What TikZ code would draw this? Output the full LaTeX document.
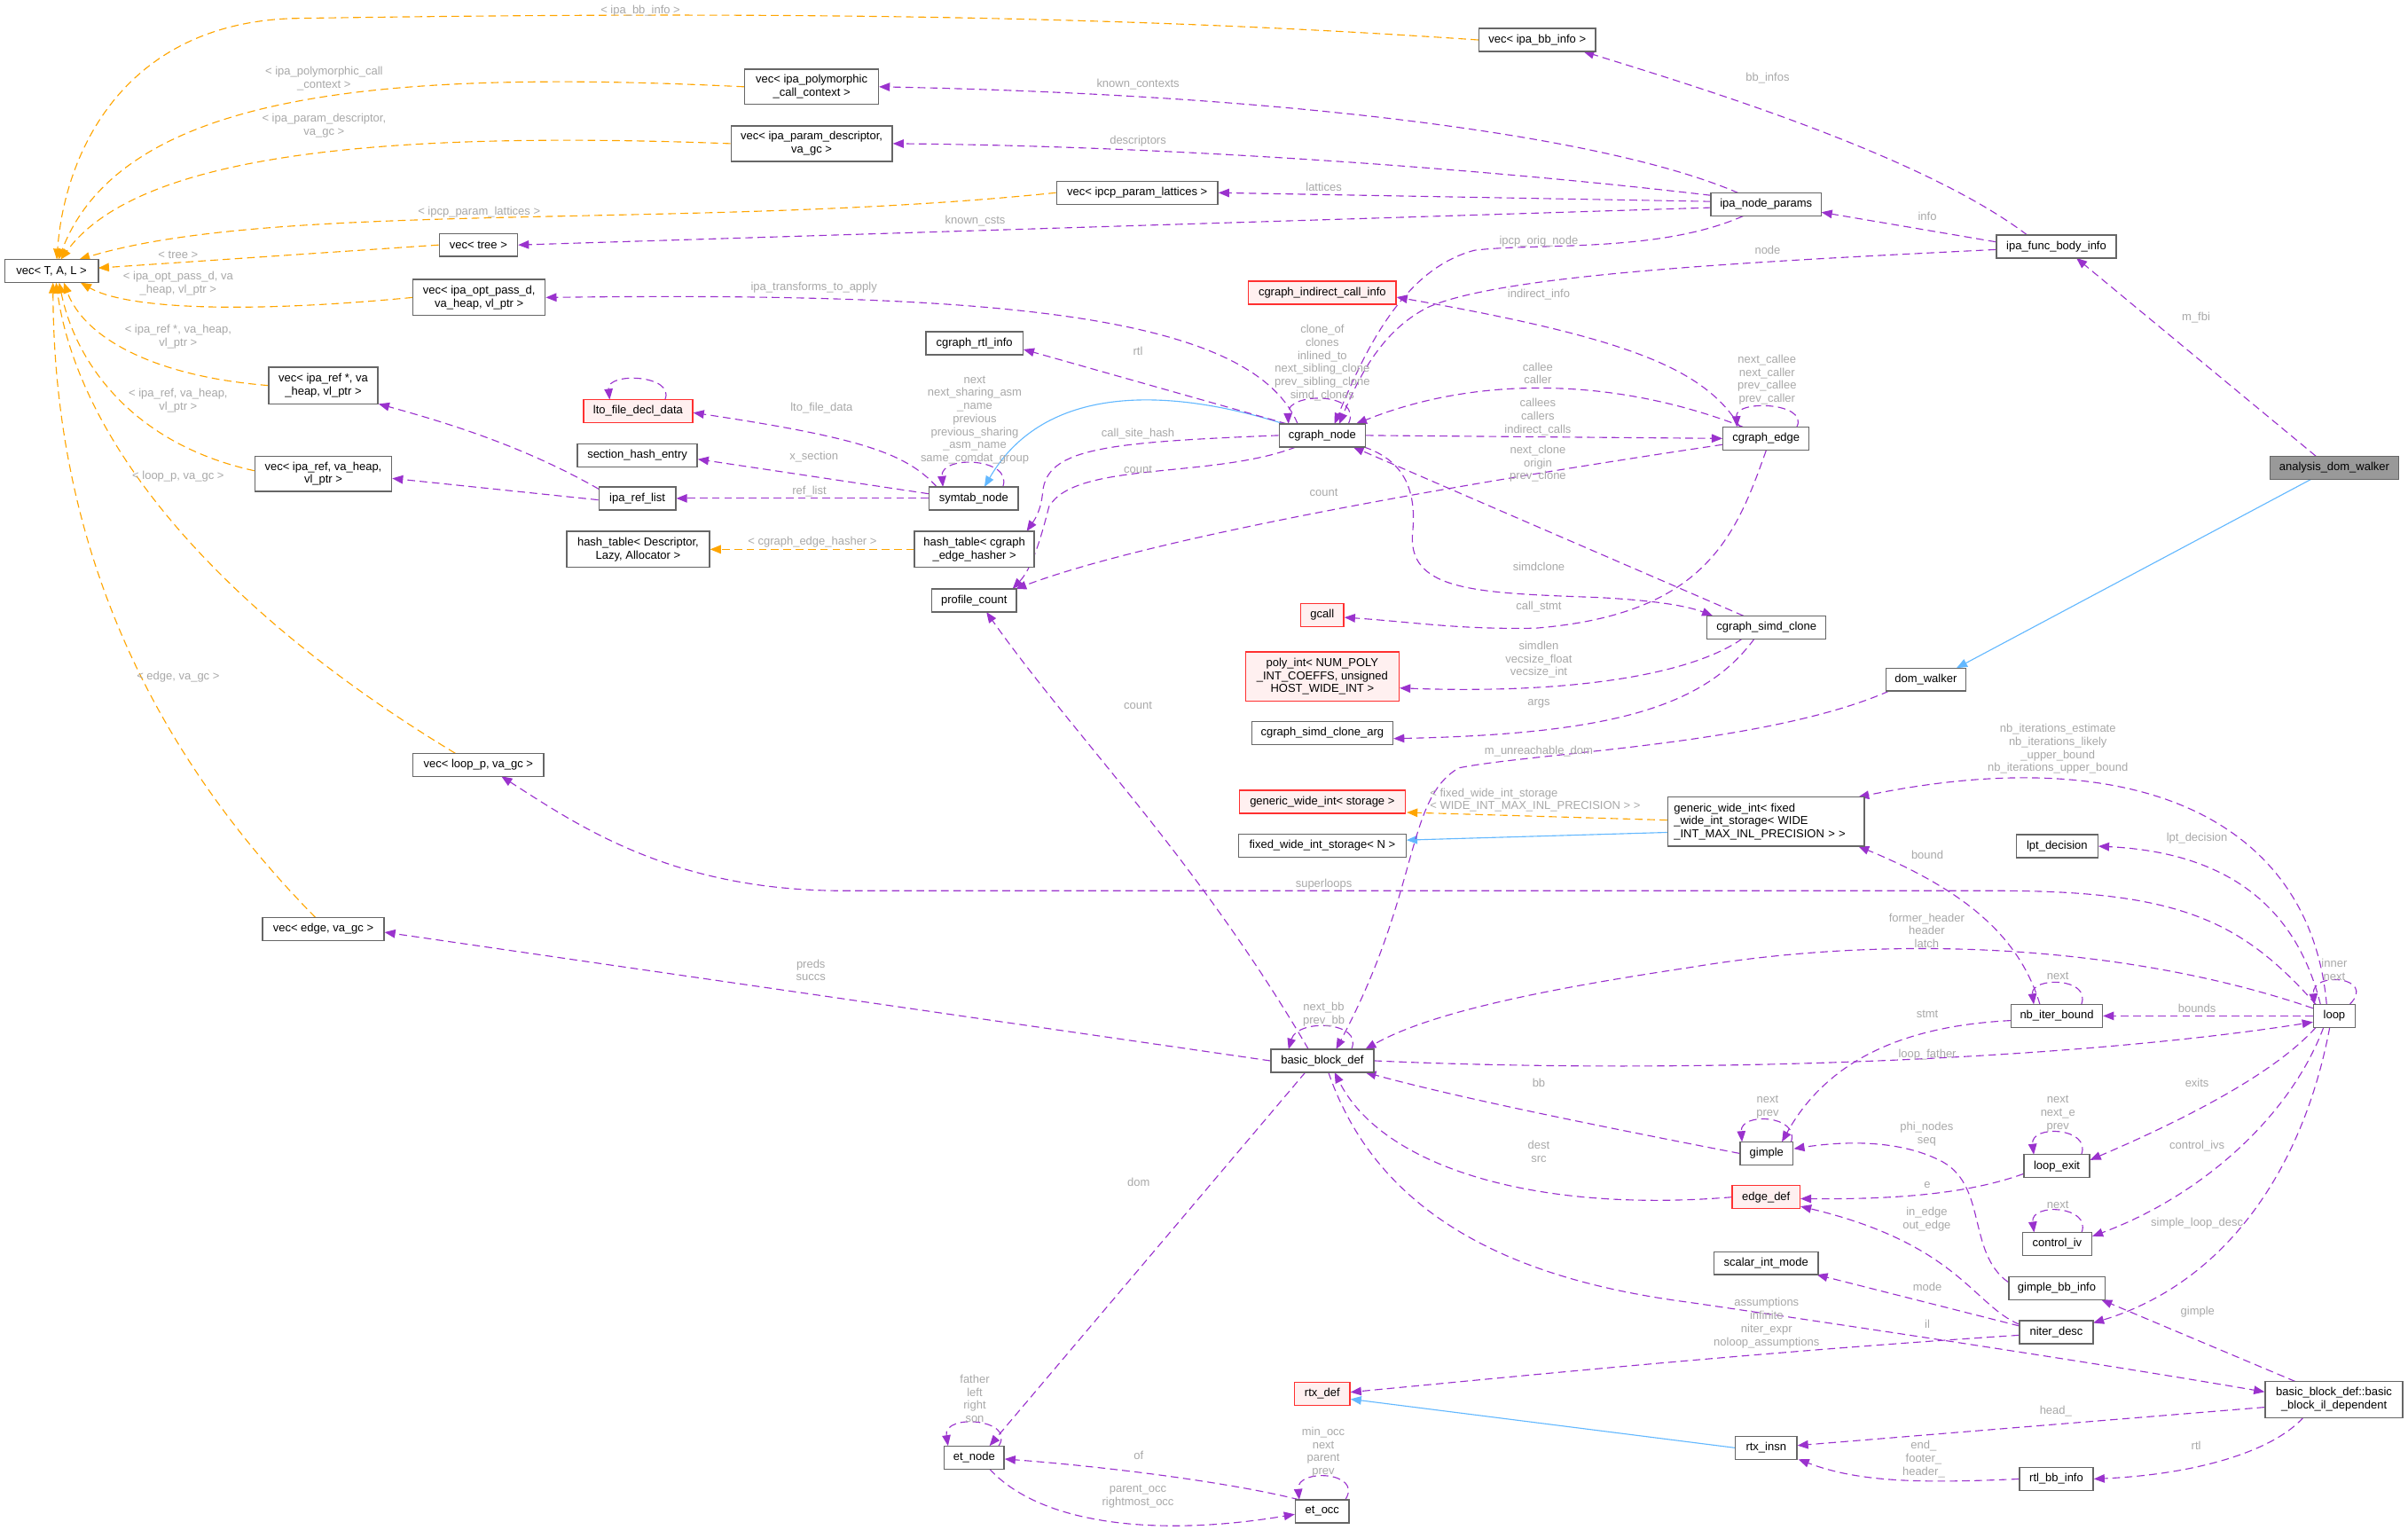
\documentclass[tikz,border=0pt]{standalone}
\usepackage{fontspec}
\setmainfont{Liberation Sans}
\usetikzlibrary{arrows.meta,calc}
\definecolor{memc}{HTML}{9A32CD}
\definecolor{tmplc}{HTML}{FFA500}
\definecolor{inhc}{HTML}{63B8FF}
\definecolor{boxgray}{HTML}{666666}
\definecolor{boxred}{HTML}{FF3030}
\definecolor{redfill}{HTML}{FFF0F0}
\definecolor{lblgray}{HTML}{A8A8A8}
\definecolor{mainfill}{HTML}{999999}
\newcommand{\fs}{\fontsize{7.5}{8.5}\selectfont}
\pgfdeclarelayer{bg}
\pgfsetlayers{bg,main}
\tikzset{
  cls/.style={draw=boxgray, fill=white, line width=0.8pt, inner sep=0pt, font=\fs, align=center, text=black},
  redcls/.style={cls, draw=boxred, fill=redfill},
  maincls/.style={cls, fill=mainfill},
  lbl/.style={font=\fs, text=lblgray, inner sep=0pt, align=center},
  tipx/.style={-{Triangle[length=7pt,width=5.5pt]}},
  mem/.style={draw=memc, fill=none, line width=0.65pt, dash pattern=on 5pt off 3pt, tipx},
  tmpl/.style={draw=tmplc, line width=0.65pt, dash pattern=on 5pt off 3pt, tipx},
  inh/.style={draw=inhc, line width=0.65pt, tipx}
}
\begin{document}
\begin{tikzpicture}[x=1pt,y=-1pt]
\useasboundingbox (0,0) rectangle (1568,996);
% ---------- class nodes ----------
\node[cls, minimum width=61, minimum height=15] (vTAL) at (33.5,176.5) {vec< T, A, L >};
\node[cls, minimum width=76, minimum height=15] (vBB) at (1001,26) {vec< ipa\_bb\_info >};
\node[cls, minimum width=87, minimum height=23] (vPoly) at (528.5,56.5) {vec< ipa\_polymorphic\\\_call\_context >};
\node[cls, minimum width=105, minimum height=23] (vParam) at (528.5,93.5) {vec< ipa\_param\_descriptor,\\va\_gc >};
\node[cls, minimum width=105, minimum height=15] (vLat) at (740.5,125.5) {vec< ipcp\_param\_lattices >};
\node[cls, minimum width=51, minimum height=15] (vTree) at (311.5,159.5) {vec< tree >};
\node[cls, minimum width=86, minimum height=23.5] (vOpt) at (312,193.7) {vec< ipa\_opt\_pass\_d,\\va\_heap, vl\_ptr >};
\node[cls, minimum width=71, minimum height=24] (vRefP) at (210.5,251) {vec< ipa\_ref *, va\\\_heap, vl\_ptr >};
\node[cls, minimum width=89, minimum height=23] (vRef) at (210.5,308.5) {vec< ipa\_ref, va\_heap,\\vl\_ptr >};
\node[redcls, minimum width=71, minimum height=15] (lto) at (415.5,267.7) {lto\_file\_decl\_data};
\node[cls, minimum width=78, minimum height=15] (secHash) at (415,296.5) {section\_hash\_entry};
\node[cls, minimum width=50, minimum height=15] (refList) at (415,324.5) {ipa\_ref\_list};
\node[cls, minimum width=93, minimum height=23.5] (htDesc) at (415.5,357.7) {hash\_table< Descriptor,\\Lazy, Allocator >};
\node[cls, minimum width=85, minimum height=15] (vLoop) at (311.5,498) {vec< loop\_p, va\_gc >};
\node[cls, minimum width=79, minimum height=15] (vEdge) at (210.5,605) {vec< edge, va\_gc >};
\node[cls, minimum width=63, minimum height=15] (cgRtl) at (634.5,223.5) {cgraph\_rtl\_info};
\node[cls, minimum width=58, minimum height=15] (symtab) at (634,324.5) {symtab\_node};
\node[cls, minimum width=78, minimum height=23.5] (htCg) at (634.5,357.7) {hash\_table< cgraph\\\_edge\_hasher >};
\node[cls, minimum width=55, minimum height=15] (profCount) at (634.3,391) {profile\_count};
\node[redcls, minimum width=96, minimum height=15] (cgIndirect) at (861,190.5) {cgraph\_indirect\_call\_info};
\node[cls, minimum width=56, minimum height=15] (cgNode) at (861,283.5) {cgraph\_node};
\node[redcls, minimum width=28, minimum height=15] (gcall) at (861,400.5) {gcall};
\node[redcls, minimum width=100, minimum height=32] (polyInt) at (861,440.5) {poly\_int< NUM\_POLY\\\_INT\_COEFFS, unsigned\\HOST\_WIDE\_INT >};
\node[cls, minimum width=92, minimum height=15] (simdArg) at (861,477.4) {cgraph\_simd\_clone\_arg};
\node[redcls, minimum width=108, minimum height=15] (gwiStorage) at (861,522) {generic\_wide\_int< storage >};
\node[cls, minimum width=109, minimum height=15] (fwis) at (861,550.5) {fixed\_wide\_int\_storage< N >};
\node[cls, minimum width=67, minimum height=15] (bbd) at (861,690.7) {basic\_block\_def};
\node[redcls, minimum width=36, minimum height=15] (rtxDef) at (861,907.5) {rtx\_def};
\node[cls, minimum width=39, minimum height=15] (etNode) at (634.3,949) {et\_node};
\node[cls, minimum width=35, minimum height=15] (etOcc) at (861,984) {et\_occ};
\node[cls, minimum width=72, minimum height=15] (ipaNP) at (1150,133.2) {ipa\_node\_params};
\node[cls, minimum width=78, minimum height=15] (ipaFBI) at (1339,160.5) {ipa\_func\_body\_info};
\node[cls, minimum width=56, minimum height=15] (cgEdge) at (1150,285.5) {cgraph\_edge};
\node[maincls, minimum width=84, minimum height=15] (adw) at (1520,304.5) {analysis\_dom\_walker};
\node[cls, minimum width=77.4, minimum height=15] (simdClone) at (1150.3,408.5) {cgraph\_simd\_clone};
\node[cls, minimum width=52, minimum height=15] (domWalker) at (1254,442.5) {dom\_walker};
\node[cls, minimum width=128, minimum height=32, align=left, text width=120] (gwiFixed) at (1150,535) {generic\_wide\_int< fixed\\\_wide\_int\_storage< WIDE\\\_INT\_MAX\_INL\_PRECISION > >};
\node[cls, minimum width=53, minimum height=15] (lpt) at (1339.5,551) {lpt\_decision};
\node[cls, minimum width=59.4, minimum height=15] (nbIter) at (1339.3,661.5) {nb\_iter\_bound};
\node[cls, minimum width=27, minimum height=15] (loop) at (1520,661.5) {loop};
\node[cls, minimum width=34.6, minimum height=15] (gimple) at (1150.3,751) {gimple};
\node[redcls, minimum width=44, minimum height=15] (edgeDef) at (1150,779.5) {edge\_def};
\node[cls, minimum width=68, minimum height=15] (scalarMode) at (1150,822.5) {scalar\_int\_mode};
\node[cls, minimum width=42.6, minimum height=15] (loopExit) at (1339.3,759.3) {loop\_exit};
\node[cls, minimum width=45, minimum height=15] (controlIv) at (1339.5,810) {control\_iv};
\node[cls, minimum width=62.6, minimum height=15] (gimpleBB) at (1339.3,838.8) {gimple\_bb\_info};
\node[cls, minimum width=48, minimum height=15] (niterDesc) at (1339,867.4) {niter\_desc};
\node[cls, minimum width=89.6, minimum height=23.4] (bbIl) at (1519.8,911.3) {basic\_block\_def::basic\\\_block\_il\_dependent};
\node[cls, minimum width=40, minimum height=15] (rtxInsn) at (1150,942.7) {rtx\_insn};
\node[cls, minimum width=48, minimum height=15] (rtlBB) at (1339,963) {rtl\_bb\_info};

% ---------- connectors ----------
\begin{pgfonlayer}{bg}
% template instances
\draw[tmpl] (vBB.west) .. controls (700,8) and (450,8) .. (190,12) .. controls (80,16) and (42,100) .. ($(vTAL.center)+(3.5,-7.5)$);
\draw[tmpl] (vPoly.west) .. controls (250,45) and (80,60) .. ($(vTAL.center)+(4.5,-7.5)$);
\draw[tmpl] (vParam.west) .. controls (250,85) and (90,100) .. ($(vTAL.center)+(6,-7.5)$);
\draw[tmpl] (vLat.west) .. controls (450,150) and (180,130) .. ($(vTAL.center)+(18,-7.5)$);
\draw[tmpl] (vTree.west) -- ($(vTAL.center)+(30.5,-2)$);
\draw[tmpl] (vOpt.west) .. controls (150,205) and (80,200) .. ($(vTAL.center)+(19,7.5)$);
\draw[tmpl] (vRefP.west) .. controls (100,245) and (55,220) .. ($(vTAL.center)+(8,7.5)$);
\draw[tmpl] ($(vRef.west)+(0,-2)$) .. controls (90,290) and (50,240) .. ($(vTAL.center)+(5,7.5)$);
\draw[tmpl] ($(vLoop.center)+(-15,-7.5)$) .. controls (130,390) and (50,280) .. ($(vTAL.center)+(3,7.5)$);
\draw[tmpl] ($(vEdge.center)+(-5,-7.5)$) .. controls (80,470) and (35,330) .. ($(vTAL.center)+(1,7.5)$);
\draw[tmpl] (htCg.west) -- (htDesc.east);
\draw[tmpl] ($(gwiFixed.west)+(0,-1)$) -- ($(gwiStorage.center)+(55,7)$);
% inheritance
\draw[inh] ($(adw.center)+(-15,7.5)$) -- ($(domWalker.center)+(20,-7.5)$);
\draw[inh] ($(cgNode.center)+(-25,-7.5)$) .. controls (760,252) and (680,250) .. ($(symtab.center)+(7,-7.5)$);
\draw[inh] ($(gwiFixed.west)+(0,7)$) -- ($(fwis.east)+(0,-3.5)$);
\draw[inh] (rtxInsn.west) -- ($(rtxDef.east)+(0,3.5)$);
% members
\draw[mem] ($(ipaFBI.center)+(-19,-7.5)$) .. controls (1250,100) and (1100,55) .. ($(vBB.center)+(30,7.5)$);
\draw[mem] ($(ipaNP.center)+(-18,-7.5)$) .. controls (1050,90) and (850,62) .. (vPoly.east);
\draw[mem] ($(ipaNP.center)+(-36,-6)$) .. controls (950,108) and (750,95) .. (vParam.east);
\draw[mem] ($(ipaNP.center)+(-36,-2)$) -- (vLat.east);
\draw[mem] ($(ipaNP.center)+(-36,2)$) -- (vTree.east);
\draw[mem] ($(ipaNP.center)+(-15,7.5)$) .. controls (1080,165) and (1000,158) .. (960,163) .. controls (915,175) and (890,225) .. ($(cgNode.center)+(8,-7.5)$);
\draw[mem] ($(ipaFBI.west)+(0,-3)$) -- ($(ipaNP.center)+(36,5)$);
\draw[mem] ($(ipaFBI.west)+(0,2)$) .. controls (1150,170) and (980,178) .. (930,200) .. controls (900,215) and (885,245) .. ($(cgNode.center)+(11,-7.5)$);
\draw[mem] ($(adw.center)+(-12,-7.5)$) -- ($(ipaFBI.center)+(13,7.5)$);
\draw[mem] ($(cgNode.center)+(-16,-7.5)$) .. controls (815,205) and (650,190) .. (vOpt.east);
\draw[mem] ($(cgEdge.center)+(-17,-7.5)$) .. controls (1110,240) and (1060,220) .. ($(cgIndirect.east)+(0,3)$);
\draw[mem] ($(cgNode.center)+(-23,-7.5)$) -- ($(cgRtl.east)+(0,4)$);
\draw[mem] ($(cgNode.center)+(17,-7.5)$) .. controls (888,255) and (838,255) .. ($(cgNode.center)+(-22,-7.5)$);
\draw[mem] ($(cgEdge.center)+(-15,-7.5)$) .. controls (1050,245) and (960,245) .. ($(cgNode.center)+(22,-7.5)$);
\draw[mem] (cgNode.east) -- (cgEdge.west);
\draw[mem] ($(cgEdge.center)+(20,-7.5)$) .. controls (1178,262) and (1130,260) .. ($(cgEdge.center)+(-19,-7.5)$);
\draw[mem] ($(cgNode.center)+(27,7.5)$) .. controls (915,300) and (922,320) .. (920,345) .. controls (915,385) and (960,386) .. (1040,389) .. controls (1080,391) and (1100,395) .. ($(simdClone.center)+(-35,-7.5)$);
\draw[mem] ($(simdClone.center)+(-15,-7.5)$) -- ($(cgNode.center)+(20,7.5)$);
\draw[mem] (cgEdge.south) .. controls (1130,350) and (1110,400) .. (1000,409) .. controls (950,410) and (920,405) .. ($(gcall.east)+(0,1.5)$);
\draw[mem] ($(cgEdge.west)+(0,4)$) .. controls (950,315) and (750,350) .. ($(profCount.center)+(27,-7.5)$);
\draw[mem] ($(cgNode.center)+(-17,7.5)$) .. controls (790,312) and (700,300) .. (683,330) .. controls (678,350) and (672,370) .. ($(profCount.center)+(25,-7.5)$);
\draw[mem] (cgNode.west) .. controls (720,288) and (682,292) .. (679,320) .. controls (678,332) and (674,338) .. ($(htCg.center)+(34,-11.75)$);
\draw[mem] ($(symtab.center)+(-24,-7.5)$) .. controls (590,295) and (560,285) .. ($(lto.east)+(0,1)$);
\draw[mem] ($(symtab.west)+(0,-3)$) -- ($(secHash.east)+(0,2.5)$);
\draw[mem] (symtab.west) -- (refList.east);
\draw[mem] ($(symtab.center)+(19,-7.5)$) .. controls (660,298) and (612,296) .. ($(symtab.center)+(-20,-7.5)$);
\draw[mem] ($(refList.center)+(-25,-6)$) .. controls (340,290) and (290,275) .. ($(vRefP.center)+(36,12)$);
\draw[mem] ($(refList.west)+(0,1)$) -- ($(vRef.east)+(0,3)$);
\draw[mem] ($(lto.center)+(17.5,-7.5)$) .. controls (440,244) and (395,242) .. ($(lto.center)+(-18.5,-7.5)$);
\draw[mem] ($(bbd.center)+(-9,-7.5)$) .. controls (780,560) and (700,480) .. ($(profCount.center)+(8,7.5)$);
\draw[mem] ($(bbd.center)+(19,-7.5)$) .. controls (888,665) and (845,663) .. ($(bbd.center)+(-22,-7.5)$);
\draw[mem] ($(domWalker.center)+(-24,7.5)$) .. controls (1150,485) and (1000,490) .. (950,500) .. controls (915,520) and (925,580) .. ($(bbd.center)+(9,-7.5)$);
\draw[mem] ($(loop.west)+(0,-5)$) .. controls (1400,620) and (1250,605) .. (1100,630) .. controls (1000,645) and (930,660) .. ($(bbd.center)+(28,-7.5)$);
\draw[mem] (bbd.east) .. controls (1100,700) and (1350,690) .. ($(loop.west)+(0,4)$);
\draw[mem] ($(loop.center)+(-12,-7.5)$) .. controls (1460,600) and (1420,580) .. (1300,580) -- (550,580) .. controls (440,580) and (380,540) .. ($(vLoop.center)+(15,7.5)$);
\draw[mem] ($(loop.center)+(-5,-7.5)$) .. controls (1505,540) and (1400,480) .. ($(gwiFixed.center)+(60,-16)$);
\draw[mem] ($(loop.center)+(-9,-7.5)$) .. controls (1495,590) and (1450,555) .. (lpt.east);
\draw[mem] ($(loop.center)+(10,-7.5)$) .. controls (1548,636) and (1505,632) .. ($(loop.center)+(-13,-7.5)$);
\draw[mem] (loop.west) -- (nbIter.east);
\draw[mem] ($(nbIter.center)+(16,-7.5)$) .. controls (1362,636) and (1322,636) .. ($(nbIter.center)+(-15,-7.5)$);
\draw[mem] ($(nbIter.center)+(-11,-7.5)$) .. controls (1315,610) and (1280,580) .. ($(gwiFixed.center)+(60,16)$);
\draw[mem] ($(nbIter.west)+(0,3)$) .. controls (1240,668) and (1190,690) .. ($(gimple.center)+(10,-7.5)$);
\draw[mem] ($(gimple.center)+(16,-7.5)$) .. controls (1172,726) and (1133,724) .. ($(gimple.center)+(-16,-7.5)$);
\draw[mem] (gimple.west) .. controls (1050,735) and (950,715) .. ($(bbd.center)+(28,7.5)$);
\draw[mem] (edgeDef.west) .. controls (1000,790) and (900,760) .. ($(bbd.center)+(8,7.5)$);
\draw[mem] ($(bbd.center)+(4,7.5)$) .. controls (900,800) and (1000,835) .. (1100,848) .. controls (1250,870) and (1380,890) .. ($(bbIl.west)+(0,-5)$);
\draw[mem] (bbd.west) -- ($(vEdge.east)+(0,2)$);
\draw[mem] ($(bbd.center)+(-11,7.5)$) -- ($(etNode.center)+(10,-7.5)$);
\draw[mem] ($(etNode.center)+(16,-7.5)$) .. controls (662,924) and (614,920) .. ($(etNode.center)+(-17,-7.5)$);
\draw[mem] ($(etNode.center)+(10,7.5)$) .. controls (680,995) and (760,1000) .. ($(etOcc.west)+(0,2)$);
\draw[mem] ($(etOcc.center)+(-15,-7.5)$) .. controls (800,965) and (720,955) .. ($(etNode.east)+(0,1)$);
\draw[mem] ($(etOcc.center)+(15,-7.5)$) .. controls (888,958) and (844,956) .. ($(etOcc.center)+(-15,-7.5)$);
\draw[mem] ($(simdClone.center)+(-16,7.5)$) .. controls (1100,440) and (1020,452) .. ($(polyInt.east)+(0,7.5)$);
\draw[mem] ($(simdClone.center)+(-8,7.5)$) .. controls (1110,460) and (1050,478) .. ($(simdArg.east)+(0,3.5)$);
\draw[mem] ($(loop.center)+(-12,7.5)$) .. controls (1480,700) and (1420,730) .. ($(loopExit.east)+(0,-4)$);
\draw[mem] ($(loopExit.center)+(16,-7.5)$) .. controls (1362,734) and (1322,732) .. ($(loopExit.center)+(-15,-7.5)$);
\draw[mem] ($(loopExit.west)+(0,5)$) .. controls (1280,778) and (1230,781) .. ($(edgeDef.east)+(0,1)$);
\draw[mem] ($(loop.center)+(-7,7.5)$) .. controls (1490,730) and (1430,780) .. ($(controlIv.east)+(0,-5)$);
\draw[mem] ($(controlIv.center)+(16,-7.5)$) .. controls (1362,785) and (1322,783) .. ($(controlIv.center)+(-15,-7.5)$);
\draw[mem] ($(loop.center)+(-3,7.5)$) .. controls (1500,760) and (1450,835) .. ($(niterDesc.center)+(24,-6)$);
\draw[mem] ($(niterDesc.center)+(-24,-5)$) .. controls (1285,850) and (1275,810) .. ($(edgeDef.east)+(0,6)$);
\draw[mem] ($(gimpleBB.west)+(0,-4)$) .. controls (1280,815) and (1295,770) .. (1262,755) .. controls (1235,742) and (1200,743) .. ($(gimple.east)+(0,-3)$);
\draw[mem] ($(niterDesc.center)+(-24,-4)$) -- ($(scalarMode.center)+(33,7.5)$);
\draw[mem] ($(niterDesc.west)+(0,2)$) .. controls (1150,880) and (1000,895) .. ($(rtxDef.east)+(0,-1)$);
\draw[mem] ($(bbIl.center)+(-25,-11.7)$) -- ($(gimpleBB.center)+(29,7.5)$);
\draw[mem] ($(bbIl.west)+(0,5)$) -- ($(rtxInsn.east)+(0,-1.5)$);
\draw[mem] ($(bbIl.center)+(-20,11.7)$) .. controls (1480,945) and (1430,960) .. (rtlBB.east);
\draw[mem] (rtlBB.west) .. controls (1250,966) and (1210,965) .. ($(rtxInsn.center)+(21,7.5)$);
\end{pgfonlayer}

% ---------- labels ----------
\node[lbl] (L1) at (417,7) {< ipa\_bb\_info >};
\node[lbl] (L2) at (211,51) {< ipa\_polymorphic\_call\\\_context >};
\node[lbl] (L3) at (211,82) {< ipa\_param\_descriptor,\\va\_gc >};
\node[lbl] (L4) at (312,138) {< ipcp\_param\_lattices >};
\node[lbl] (L5) at (116,165.7) {< tree >};
\node[lbl] (L6) at (116,184.5) {< ipa\_opt\_pass\_d, va\\\_heap, vl\_ptr >};
\node[lbl] (L7) at (116,219.3) {< ipa\_ref *, va\_heap,\\vl\_ptr >};
\node[lbl] (L8) at (116,260.8) {< ipa\_ref, va\_heap,\\vl\_ptr >};
\node[lbl] (L9) at (116,310) {< loop\_p, va\_gc >};
\node[lbl] (L10) at (116,440.7) {< edge, va\_gc >};
\node[lbl] (L11) at (529,353) {< cgraph\_edge\_hasher >};
\node[lbl, align=left, anchor=west] (L12) at (931,521) {< fixed\_wide\_int\_storage\\< WIDE\_INT\_MAX\_INL\_PRECISION > >};
\node[lbl] (L13) at (741,54.7) {known\_contexts};
\node[lbl] (L14) at (741,92) {descriptors};
\node[lbl] (L15) at (862,122) {lattices};
\node[lbl] (L16) at (635,144) {known\_csts};
\node[lbl] (L17) at (1002,157) {ipcp\_orig\_node};
\node[lbl] (L18) at (1002,191.5) {indirect\_info};
\node[lbl] (L19) at (530,187) {ipa\_transforms\_to\_apply};
\node[lbl] (L20) at (741,228.6) {rtl};
\node[lbl] (L21) at (861,236.3) {clone\_of\\clones\\inlined\_to\\next\_sibling\_clone\\prev\_sibling\_clone\\simd\_clones};
\node[lbl] (L22) at (634.7,273.5) {next\\next\_sharing\_asm\\\_name\\previous\\previous\_sharing\\\_asm\_name\\same\_comdat\_group};
\node[lbl] (L23) at (535,265.7) {lto\_file\_data};
\node[lbl] (L24) at (530,297.5) {x\_section};
\node[lbl] (L25) at (527,320) {ref\_list};
\node[lbl] (L26) at (741,282.4) {call\_site\_hash};
\node[lbl] (L27) at (741,305.5) {count};
\node[lbl] (L28) at (1001.4,243) {callee\\caller};
\node[lbl] (L29) at (1001.4,271.5) {callees\\callers\\indirect\_calls};
\node[lbl] (L30) at (1001.4,302) {next\_clone\\origin\\prev\_clone};
\node[lbl] (L31) at (862,321) {count};
\node[lbl] (L32) at (1151,50.6) {bb\_infos};
\node[lbl] (L33) at (1255,140.7) {info};
\node[lbl] (L34) at (1151,163) {node};
\node[lbl] (L35) at (1430,207) {m\_fbi};
\node[lbl] (L36) at (1150.6,247.3) {next\_callee\\next\_caller\\prev\_callee\\prev\_caller};
\node[lbl] (L37) at (1002,368.7) {simdclone};
\node[lbl] (L38) at (1002,395) {call\_stmt};
\node[lbl] (L39) at (1002,429.5) {simdlen\\vecsize\_float\\vecsize\_int};
\node[lbl] (L40) at (1002,458) {args};
\node[lbl] (L41) at (1002,489) {m\_unreachable\_dom};
\node[lbl] (L42) at (741,459.5) {count};
\node[lbl] (L43) at (862,576) {superloops};
\node[lbl] (L44) at (528,631.8) {preds\\succs};
\node[lbl] (L45) at (862,660.3) {next\_bb\\prev\_bb};
\node[lbl] (L46) at (1340,487.7) {nb\_iterations\_estimate\\nb\_iterations\_likely\\\_upper\_bound\\nb\_iterations\_upper\_bound};
\node[lbl] (L47) at (1430.6,545.8) {lpt\_decision};
\node[lbl] (L48) at (1255,556.6) {bound};
\node[lbl] (L49) at (1254.6,606) {former\_header\\header\\latch};
\node[lbl] (L50) at (1340,635.6) {next};
\node[lbl] (L51) at (1520,631.3) {inner\\next};
\node[lbl] (L52) at (1430.6,656.6) {bounds};
\node[lbl] (L53) at (1255,660.6) {stmt};
\node[lbl] (L54) at (1002,705.3) {bb};
\node[lbl] (L55) at (1002,750) {dest\\src};
\node[lbl] (L56) at (741.4,770) {dom};
\node[lbl] (L57) at (634.7,910.6) {father\\left\\right\\son};
\node[lbl] (L58) at (861.7,945.5) {min\_occ\\next\\parent\\prev};
\node[lbl] (L59) at (741.4,947.7) {of};
\node[lbl] (L60) at (741,974.5) {parent\_occ\\rightmost\_occ};
\node[lbl] (L61) at (1255,687) {loop\_father};
\node[lbl] (L62) at (1430.6,705.3) {exits};
\node[lbl] (L63) at (1151,721) {next\\prev};
\node[lbl] (L64) at (1340,725.2) {next\\next\_e\\prev};
\node[lbl] (L65) at (1254.6,738.3) {phi\_nodes\\seq};
\node[lbl] (L66) at (1430.6,746.4) {control\_ivs};
\node[lbl] (L67) at (1255,771.8) {e};
\node[lbl] (L68) at (1340,784.5) {next};
\node[lbl] (L69) at (1254.6,793.8) {in\_edge\\out\_edge};
\node[lbl] (L70) at (1430.6,796.4) {simple\_loop\_desc};
\node[lbl] (L71) at (1255,838.1) {mode};
\node[lbl] (L72) at (1150.3,861.5) {assumptions\\infinite\\niter\_expr\\noloop\_assumptions};
\node[lbl] (L73) at (1255,861.9) {il};
\node[lbl] (L74) at (1431,854.5) {gimple};
\node[lbl] (L75) at (1338.6,919) {head\_};
\node[lbl] (L76) at (1430,941.3) {rtl};
\node[lbl] (L77) at (1252.6,950) {end\_\\footer\_\\header\_};
\end{tikzpicture}
\end{document}
